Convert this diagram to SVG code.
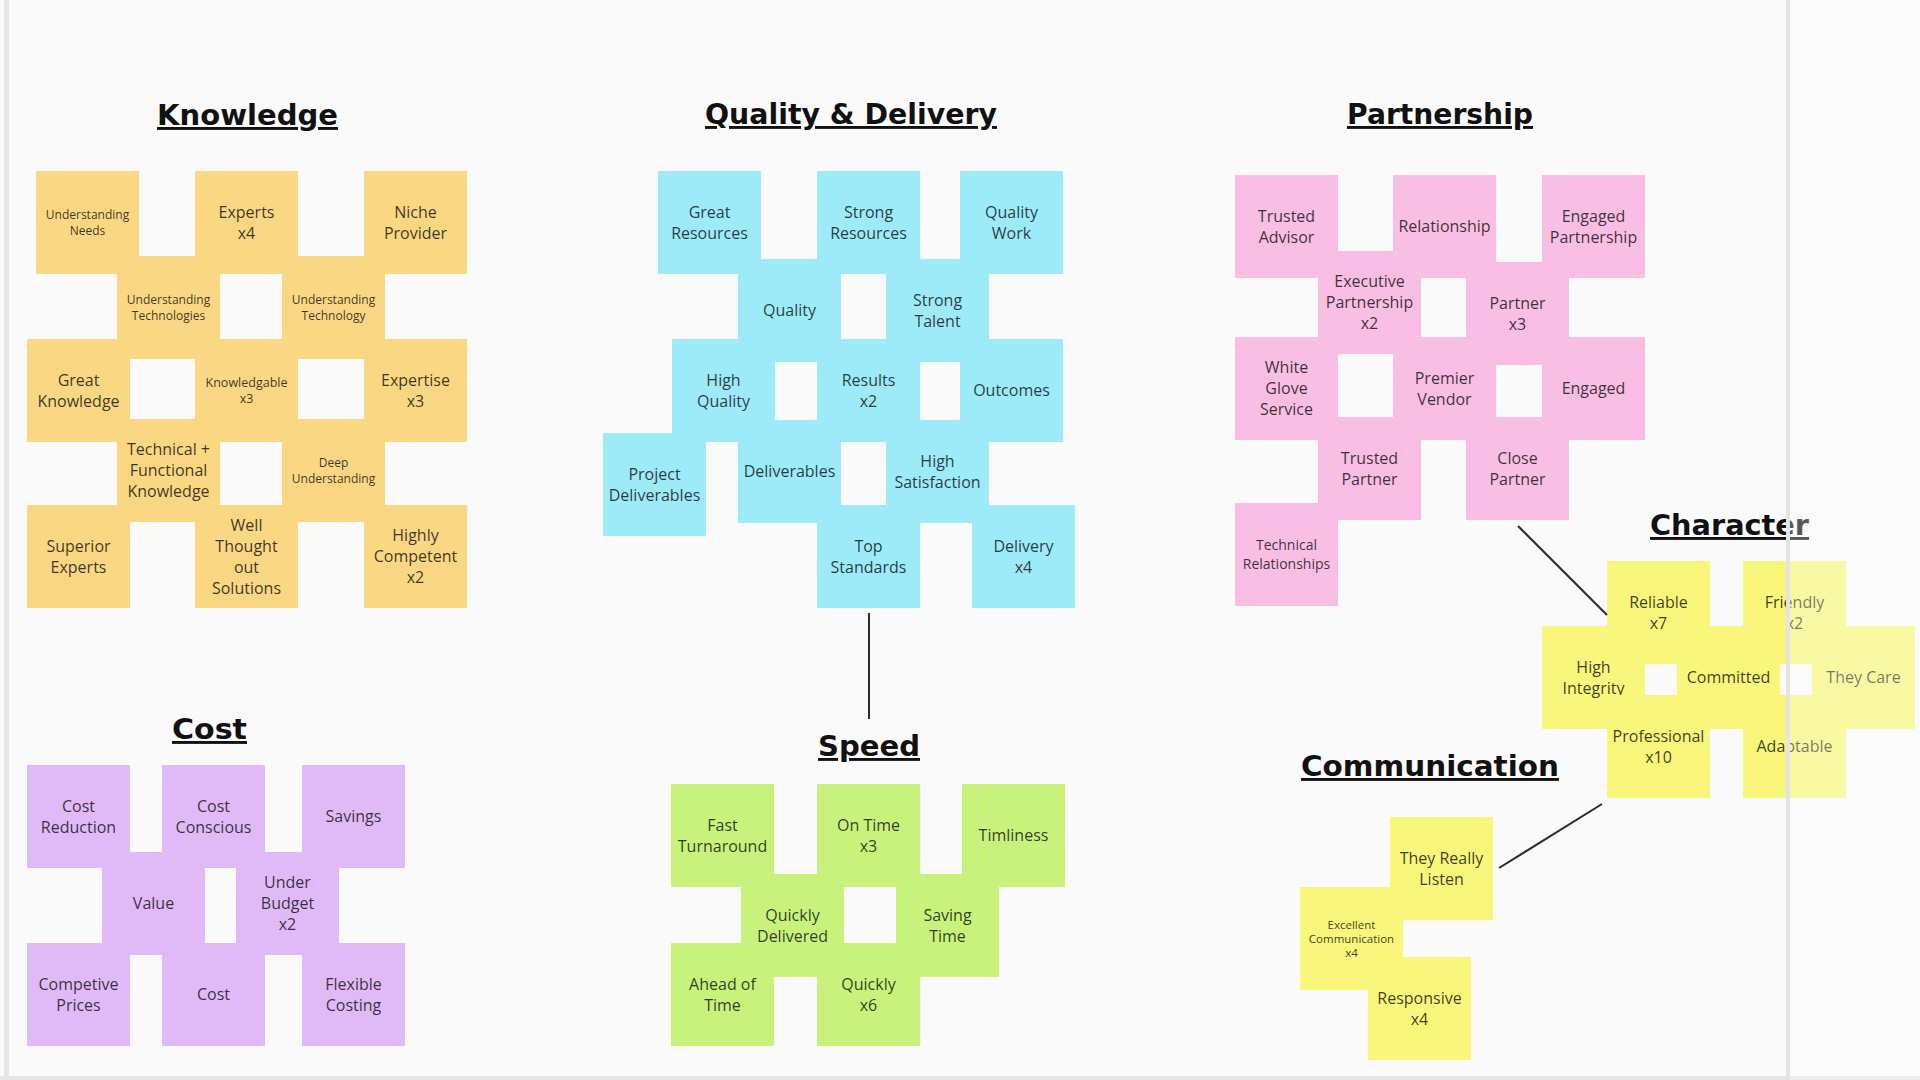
<svg xmlns="http://www.w3.org/2000/svg" width="1920" height="1080" viewBox="0 0 1920 1080">
<style>
.bg{fill:#FAFAFA}
.frame{fill:#E6E6E6}
.k{fill:#FAD783}
.q{fill:#9DEAF9}
.p{fill:#F9BEE3}
.c{fill:#E0BAF7}
.s{fill:#C9F27C}
.y{fill:#F8F77B}
text{font-family:"Open Sans","Liberation Sans",sans-serif;fill:#000;fill-opacity:0.76;text-anchor:middle}
.n{font-size:16px}
.sm{font-size:12px}
.md{font-size:14px}
.xs{font-size:11.5px}
.title{font-family:"DejaVu Sans","Liberation Sans",sans-serif;font-weight:bold;font-size:29px;fill:#111;fill-opacity:1;text-anchor:start;text-decoration:underline}
.conn{stroke:#2a2a2a;stroke-width:2;fill:none}
</style>
<defs>
<rect id="note" width="103" height="103"/>
</defs>
<rect class="bg" x="0" y="0" width="1920" height="1080"/>
<rect class="frame" x="4" y="0" width="5" height="1080"/>
<rect class="frame" x="0" y="1076" width="1920" height="4"/>

<g id="titles">
<text class="title" x="157" y="125" textLength="181" lengthAdjust="spacingAndGlyphs">Knowledge</text>
<text class="title" x="705" y="124" textLength="292" lengthAdjust="spacingAndGlyphs">Quality &amp; Delivery</text>
<text class="title" x="1347" y="124" textLength="186" lengthAdjust="spacingAndGlyphs">Partnership</text>
<text class="title" x="172" y="739" textLength="75" lengthAdjust="spacingAndGlyphs">Cost</text>
<text class="title" x="818" y="756" textLength="102" lengthAdjust="spacingAndGlyphs">Speed</text>
<text class="title" x="1301" y="776" textLength="258" lengthAdjust="spacingAndGlyphs">Communication</text>
<text class="title" x="1650" y="535" textLength="159" lengthAdjust="spacingAndGlyphs">Character</text>
</g>

<!-- Knowledge -->
<g id="k-understanding-needs"><use href="#note" class="k" x="36" y="171"/><text class="sm" x="87.5" y="218.8"><tspan x="87.5">Understanding</tspan><tspan x="87.5" dy="16">Needs</tspan></text></g>
<g id="k-experts"><use href="#note" class="k" x="195" y="171"/><text class="n" x="246.5" y="217.8"><tspan x="246.5">Experts</tspan><tspan x="246.5" dy="21">x4</tspan></text></g>
<g id="k-niche-provider"><use href="#note" class="k" x="364" y="171"/><text class="n" x="415.5" y="217.8"><tspan x="415.5">Niche</tspan><tspan x="415.5" dy="21">Provider</tspan></text></g>
<g id="k-understanding-technologies"><use href="#note" class="k" x="117" y="256"/><text class="sm" x="168.5" y="303.8"><tspan x="168.5">Understanding</tspan><tspan x="168.5" dy="16">Technologies</tspan></text></g>
<g id="k-understanding-technology"><use href="#note" class="k" x="282" y="256"/><text class="sm" x="333.5" y="303.8"><tspan x="333.5">Understanding</tspan><tspan x="333.5" dy="16">Technology</tspan></text></g>
<g id="k-great-knowledge"><use href="#note" class="k" x="27" y="339"/><text class="n" x="78.5" y="385.8"><tspan x="78.5">Great</tspan><tspan x="78.5" dy="21">Knowledge</tspan></text></g>
<g id="k-knowledgable"><use href="#note" class="k" x="195" y="339"/><text class="sm" x="246.5" y="387" style="font-size:12.5px"><tspan x="246.5">Knowledgable</tspan><tspan x="246.5" dy="16">x3</tspan></text></g>
<g id="k-expertise"><use href="#note" class="k" x="364" y="339"/><text class="n" x="415.5" y="385.8"><tspan x="415.5">Expertise</tspan><tspan x="415.5" dy="21">x3</tspan></text></g>
<g id="k-technical-functional"><use href="#note" class="k" x="117" y="419"/><text class="n" x="168.5" y="455.3"><tspan x="168.5">Technical +</tspan><tspan x="168.5" dy="21">Functional</tspan><tspan x="168.5" dy="21">Knowledge</tspan></text></g>
<g id="k-deep-understanding"><use href="#note" class="k" x="282" y="419"/><text class="sm" x="333.5" y="466.8"><tspan x="333.5">Deep</tspan><tspan x="333.5" dy="16">Understanding</tspan></text></g>
<g id="k-superior-experts"><use href="#note" class="k" x="27" y="505"/><text class="n" x="78.5" y="551.8"><tspan x="78.5">Superior</tspan><tspan x="78.5" dy="21">Experts</tspan></text></g>
<g id="k-well-thought"><use href="#note" class="k" x="195" y="505"/><text class="n" x="246.5" y="530.8"><tspan x="246.5">Well</tspan><tspan x="246.5" dy="21">Thought</tspan><tspan x="246.5" dy="21">out</tspan><tspan x="246.5" dy="21">Solutions</tspan></text></g>
<g id="k-highly-competent"><use href="#note" class="k" x="364" y="505"/><text class="n" x="415.5" y="541.3"><tspan x="415.5">Highly</tspan><tspan x="415.5" dy="21">Competent</tspan><tspan x="415.5" dy="21">x2</tspan></text></g>

<!-- Quality & Delivery -->
<g id="q-great-resources"><use href="#note" class="q" x="658" y="171"/><text class="n" x="709.5" y="217.8"><tspan x="709.5">Great</tspan><tspan x="709.5" dy="21">Resources</tspan></text></g>
<g id="q-strong-resources"><use href="#note" class="q" x="817" y="171"/><text class="n" x="868.5" y="217.8"><tspan x="868.5">Strong</tspan><tspan x="868.5" dy="21">Resources</tspan></text></g>
<g id="q-quality-work"><use href="#note" class="q" x="960" y="171"/><text class="n" x="1011.5" y="217.8"><tspan x="1011.5">Quality</tspan><tspan x="1011.5" dy="21">Work</tspan></text></g>
<g id="q-quality"><use href="#note" class="q" x="738" y="259"/><text class="n" x="789.5" y="316.3">Quality</text></g>
<g id="q-strong-talent"><use href="#note" class="q" x="886" y="259"/><text class="n" x="937.5" y="305.8"><tspan x="937.5">Strong</tspan><tspan x="937.5" dy="21">Talent</tspan></text></g>
<g id="q-high-quality"><use href="#note" class="q" x="672" y="339"/><text class="n" x="723.5" y="385.8"><tspan x="723.5">High</tspan><tspan x="723.5" dy="21">Quality</tspan></text></g>
<g id="q-results"><use href="#note" class="q" x="817" y="339"/><text class="n" x="868.5" y="385.8"><tspan x="868.5">Results</tspan><tspan x="868.5" dy="21">x2</tspan></text></g>
<g id="q-outcomes"><use href="#note" class="q" x="960" y="339"/><text class="n" x="1011.5" y="396.3">Outcomes</text></g>
<g id="q-project-deliverables"><use href="#note" class="q" x="603" y="433"/><text class="n" x="654.5" y="479.8"><tspan x="654.5">Project</tspan><tspan x="654.5" dy="21">Deliverables</tspan></text></g>
<g id="q-deliverables"><use href="#note" class="q" x="738" y="420"/><text class="n" x="789.5" y="477.3">Deliverables</text></g>
<g id="q-high-satisfaction"><use href="#note" class="q" x="886" y="420"/><text class="n" x="937.5" y="466.8"><tspan x="937.5">High</tspan><tspan x="937.5" dy="21">Satisfaction</tspan></text></g>
<g id="q-top-standards"><use href="#note" class="q" x="817" y="505"/><text class="n" x="868.5" y="551.8"><tspan x="868.5">Top</tspan><tspan x="868.5" dy="21">Standards</tspan></text></g>
<g id="q-delivery"><use href="#note" class="q" x="972" y="505"/><text class="n" x="1023.5" y="551.8"><tspan x="1023.5">Delivery</tspan><tspan x="1023.5" dy="21">x4</tspan></text></g>

<!-- Partnership -->
<g id="p-trusted-advisor"><use href="#note" class="p" x="1235" y="175"/><text class="n" x="1286.5" y="221.8"><tspan x="1286.5">Trusted</tspan><tspan x="1286.5" dy="21">Advisor</tspan></text></g>
<g id="p-relationship"><use href="#note" class="p" x="1393" y="175"/><text class="n" x="1444.5" y="232.3">Relationship</text></g>
<g id="p-engaged-partnership"><use href="#note" class="p" x="1542" y="175"/><text class="n" x="1593.5" y="221.8"><tspan x="1593.5">Engaged</tspan><tspan x="1593.5" dy="21">Partnership</tspan></text></g>
<g id="p-executive-partnership"><use href="#note" class="p" x="1318" y="251"/><text class="n" x="1369.5" y="287.3"><tspan x="1369.5">Executive</tspan><tspan x="1369.5" dy="21">Partnership</tspan><tspan x="1369.5" dy="21">x2</tspan></text></g>
<g id="p-partner"><use href="#note" class="p" x="1466" y="262"/><text class="n" x="1517.5" y="308.8"><tspan x="1517.5">Partner</tspan><tspan x="1517.5" dy="21">x3</tspan></text></g>
<g id="p-white-glove"><use href="#note" class="p" x="1235" y="337"/><text class="n" x="1286.5" y="373.3"><tspan x="1286.5">White</tspan><tspan x="1286.5" dy="21">Glove</tspan><tspan x="1286.5" dy="21">Service</tspan></text></g>
<g id="p-premier-vendor"><use href="#note" class="p" x="1393" y="337"/><text class="n" x="1444.5" y="383.8"><tspan x="1444.5">Premier</tspan><tspan x="1444.5" dy="21">Vendor</tspan></text></g>
<g id="p-engaged"><use href="#note" class="p" x="1542" y="337"/><text class="n" x="1593.5" y="394.3">Engaged</text></g>
<g id="p-trusted-partner"><use href="#note" class="p" x="1318" y="417"/><text class="n" x="1369.5" y="463.8"><tspan x="1369.5">Trusted</tspan><tspan x="1369.5" dy="21">Partner</tspan></text></g>
<g id="p-close-partner"><use href="#note" class="p" x="1466" y="417"/><text class="n" x="1517.5" y="463.8"><tspan x="1517.5">Close</tspan><tspan x="1517.5" dy="21">Partner</tspan></text></g>
<g id="p-technical-relationships"><use href="#note" class="p" x="1235" y="503"/><text class="md" x="1286.5" y="550"><tspan x="1286.5">Technical</tspan><tspan x="1286.5" dy="19">Relationships</tspan></text></g>

<!-- Cost -->
<g id="c-cost-reduction"><use href="#note" class="c" x="27" y="765"/><text class="n" x="78.5" y="811.8"><tspan x="78.5">Cost</tspan><tspan x="78.5" dy="21">Reduction</tspan></text></g>
<g id="c-cost-conscious"><use href="#note" class="c" x="162" y="765"/><text class="n" x="213.5" y="811.8"><tspan x="213.5">Cost</tspan><tspan x="213.5" dy="21">Conscious</tspan></text></g>
<g id="c-savings"><use href="#note" class="c" x="302" y="765"/><text class="n" x="353.5" y="822.3">Savings</text></g>
<g id="c-value"><use href="#note" class="c" x="102" y="852"/><text class="n" x="153.5" y="909.3">Value</text></g>
<g id="c-under-budget"><use href="#note" class="c" x="236" y="852"/><text class="n" x="287.5" y="888.3"><tspan x="287.5">Under</tspan><tspan x="287.5" dy="21">Budget</tspan><tspan x="287.5" dy="21">x2</tspan></text></g>
<g id="c-competive-prices"><use href="#note" class="c" x="27" y="943"/><text class="n" x="78.5" y="989.8"><tspan x="78.5">Competive</tspan><tspan x="78.5" dy="21">Prices</tspan></text></g>
<g id="c-cost"><use href="#note" class="c" x="162" y="943"/><text class="n" x="213.5" y="1000.3">Cost</text></g>
<g id="c-flexible-costing"><use href="#note" class="c" x="302" y="943"/><text class="n" x="353.5" y="989.8"><tspan x="353.5">Flexible</tspan><tspan x="353.5" dy="21">Costing</tspan></text></g>

<!-- Speed -->
<g id="s-fast-turnaround"><use href="#note" class="s" x="671" y="784"/><text class="n" x="722.5" y="830.8"><tspan x="722.5">Fast</tspan><tspan x="722.5" dy="21">Turnaround</tspan></text></g>
<g id="s-on-time"><use href="#note" class="s" x="817" y="784"/><text class="n" x="868.5" y="830.8"><tspan x="868.5">On Time</tspan><tspan x="868.5" dy="21">x3</tspan></text></g>
<g id="s-timliness"><use href="#note" class="s" x="962" y="784"/><text class="n" x="1013.5" y="841.3">Timliness</text></g>
<g id="s-quickly-delivered"><use href="#note" class="s" x="741" y="874"/><text class="n" x="792.5" y="920.8"><tspan x="792.5">Quickly</tspan><tspan x="792.5" dy="21">Delivered</tspan></text></g>
<g id="s-saving-time"><use href="#note" class="s" x="896" y="874"/><text class="n" x="947.5" y="920.8"><tspan x="947.5">Saving</tspan><tspan x="947.5" dy="21">Time</tspan></text></g>
<g id="s-ahead-of-time"><use href="#note" class="s" x="671" y="943"/><text class="n" x="722.5" y="989.8"><tspan x="722.5">Ahead of</tspan><tspan x="722.5" dy="21">Time</tspan></text></g>
<g id="s-quickly"><use href="#note" class="s" x="817" y="943"/><text class="n" x="868.5" y="989.8"><tspan x="868.5">Quickly</tspan><tspan x="868.5" dy="21">x6</tspan></text></g>

<!-- Character -->
<g id="ch-reliable"><use href="#note" class="y" x="1607" y="561"/><text class="n" x="1658.5" y="607.8"><tspan x="1658.5">Reliable</tspan><tspan x="1658.5" dy="21">x7</tspan></text></g>
<g id="ch-friendly"><use href="#note" class="y" x="1743" y="561"/><text class="n" x="1794.5" y="607.8"><tspan x="1794.5">Friendly</tspan><tspan x="1794.5" dy="21">x2</tspan></text></g>
<g id="ch-high-integrity"><use href="#note" class="y" x="1542" y="626"/><text class="n" x="1593.5" y="672.8"><tspan x="1593.5">High</tspan><tspan x="1593.5" dy="21">Integrity</tspan></text></g>
<g id="ch-committed"><use href="#note" class="y" x="1677" y="626"/><text class="n" x="1728.5" y="683.3">Committed</text></g>
<g id="ch-they-care"><use href="#note" class="y" x="1812" y="626"/><text class="n" x="1863.5" y="683.3">They Care</text></g>
<g id="ch-professional"><use href="#note" class="y" x="1607" y="695"/><text class="n" x="1658.5" y="741.8"><tspan x="1658.5">Professional</tspan><tspan x="1658.5" dy="21">x10</tspan></text></g>
<g id="ch-adaptable"><use href="#note" class="y" x="1743" y="695"/><text class="n" x="1794.5" y="752.3">Adaptable</text></g>

<!-- Communication -->
<g id="cm-they-really-listen"><use href="#note" class="y" x="1390" y="817"/><text class="n" x="1441.5" y="863.8"><tspan x="1441.5">They Really</tspan><tspan x="1441.5" dy="21">Listen</tspan></text></g>
<g id="cm-excellent-communication"><use href="#note" class="y" x="1300" y="887"/><text class="xs" x="1351.5" y="928.6"><tspan x="1351.5">Excellent</tspan><tspan x="1351.5" dy="14">Communication</tspan><tspan x="1351.5" dy="14">x4</tspan></text></g>
<g id="cm-responsive"><use href="#note" class="y" x="1368" y="957"/><text class="n" x="1419.5" y="1003.8"><tspan x="1419.5">Responsive</tspan><tspan x="1419.5" dy="21">x4</tspan></text></g>

<g id="connectors">
<line class="conn" x1="869" y1="613" x2="869" y2="719"/>
<line class="conn" x1="1518" y1="526" x2="1607" y2="615"/>
<line class="conn" x1="1499" y1="868" x2="1602" y2="804"/>
</g>

<rect x="1790" y="0" width="130" height="1080" fill="#FFFFFF" fill-opacity="0.3"/>
<rect x="1786" y="0" width="4" height="1080" fill="#E4E4E4"/>
</svg>
